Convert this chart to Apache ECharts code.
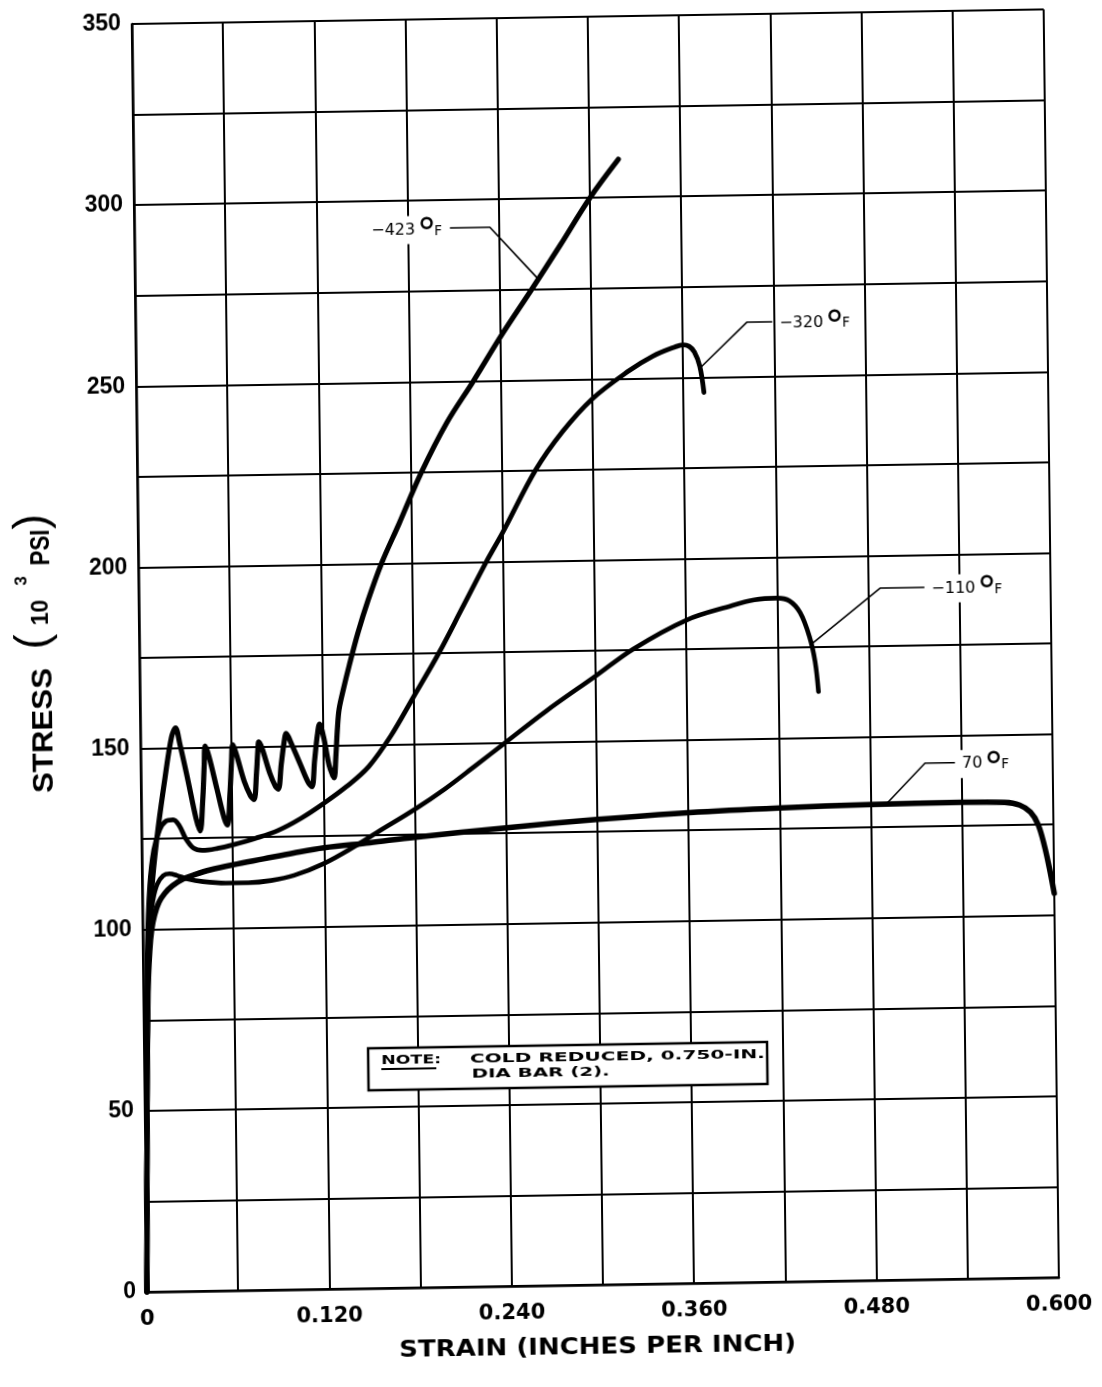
<!DOCTYPE html>
<html>
<head>
<meta charset="utf-8">
<title>Stress-strain curves, cold reduced 0.750-in. dia bar</title>
<script src="https://cdn.jsdelivr.net/npm/echarts@6/dist/echarts.min.js"></script>
<style>
  html, body { margin: 0; padding: 0; background: #fff; }
  /* the printed sheet sits very slightly rotated on the page */
  #chart {
    width: 1102px; height: 1387px; background: #fff;
    transform: matrix(1, -0.016, 0.012, 1, 0, 0);
    transform-origin: 147px 1292px;
  }
</style>
</head>
<body>
<div id="chart"></div>
<script>
// ---- tick labels ----
const xTickLabels = ['0', '0.120', '0.240', '0.360', '0.480', '0.600'];
const yTickLabels = ['0', '50', '100', '150', '200', '250', '300', '350'];

// ---- temperature labels ----
const tempLabels = ['\u2212423', '\u2212320', '\u2212110', '70'];

// ---- 70 F : strain (in/in), stress (10^3 psi) ----
const strain70 = [0, 0.0015, 0.003, 0.0045, 0.006, 0.008, 0.011, 0.015, 0.02, 0.027, 0.035, 0.045, 0.06, 0.08, 0.1, 0.12, 0.15, 0.18, 0.24, 0.3, 0.36, 0.42, 0.48, 0.54, 0.568, 0.578, 0.585, 0.59, 0.594, 0.597, 0.6];
const stress70 = [0, 50, 82, 94, 100, 104, 107.5, 110, 112, 113.8, 115, 116.2, 117.5, 119, 120.5, 121.8, 123, 124.3, 126.5, 128.4, 129.9, 130.8, 131.3, 131.5, 131.3, 130.5, 128.5, 125, 119, 113, 106];

// ---- -110 F ----
const strain110 = [0, 0.0015, 0.003, 0.0045, 0.007, 0.01, 0.014, 0.018, 0.023, 0.03, 0.04, 0.055, 0.07, 0.085, 0.1, 0.12, 0.14, 0.155, 0.18, 0.2, 0.22, 0.24, 0.267, 0.3, 0.325, 0.36, 0.39, 0.405, 0.42, 0.428, 0.435, 0.441, 0.4445, 0.4465];
const stress110 = [0, 55, 88, 100, 108, 112.5, 114.8, 115.3, 114.8, 113.8, 113, 112.5, 112.5, 113, 114.3, 117.5, 122, 125.8, 132, 137.5, 143.7, 150, 158.5, 168, 175.3, 183, 186.8, 188.3, 188.7, 187.9, 184.6, 177.9, 171, 162.7];

// ---- -320 F ----
const strain320 = [0, 0.0015, 0.003, 0.005, 0.008, 0.012, 0.016, 0.021, 0.025, 0.029, 0.034, 0.04, 0.05, 0.06, 0.075, 0.09, 0.105, 0.12, 0.135, 0.15, 0.165, 0.18, 0.197, 0.213, 0.229, 0.24, 0.262, 0.28, 0.3, 0.324, 0.34, 0.355, 0.36, 0.364, 0.3675, 0.371, 0.3735];
const stress320 = [0, 60, 95, 112, 122, 127.5, 129.8, 130.2, 128.5, 125, 122.3, 121.6, 122.1, 123, 124.7, 126.8, 130, 134, 138.5, 144, 152.5, 163, 175, 187.5, 200, 208, 225, 235.5, 244.5, 252, 256, 258.5, 259, 258.6, 257, 253, 245.8];

// ---- -423 F (serrated yielding) ----
const strain423 = [0, 0.0015, 0.003, 0.0045, 0.007, 0.011, 0.016, 0.0205, 0.0232, 0.026, 0.031, 0.036, 0.0386, 0.0405, 0.0418, 0.0426, 0.045, 0.05, 0.0545, 0.0567, 0.0585, 0.0598, 0.0607, 0.063, 0.068, 0.072, 0.0743, 0.0762, 0.0773, 0.0779, 0.08, 0.085, 0.0885, 0.0904, 0.0925, 0.0945, 0.096, 0.099, 0.105, 0.11, 0.1125, 0.1145, 0.1165, 0.118, 0.1205, 0.124, 0.1265, 0.1273, 0.1285, 0.1298, 0.131, 0.134, 0.138, 0.144, 0.151, 0.16, 0.172, 0.187, 0.204, 0.222, 0.24, 0.261, 0.28, 0.3, 0.319];
const stress423 = [0, 50, 85, 100, 114, 128, 142, 153, 155.5, 151, 141, 130.5, 127, 135, 145, 150.4, 147.5, 138.5, 130.5, 128.5, 137, 146, 150.6, 148, 140.5, 136.5, 135.4, 143, 149.5, 151.3, 149.5, 142.5, 139, 138.2, 145, 151, 153.5, 151, 145, 140, 138.7, 146, 153, 155.9, 152.5, 144.5, 141.5, 141.1, 147, 155, 160, 165.5, 172, 181, 190, 200, 211, 225, 238.5, 250, 262, 275, 287, 300, 310.5];

// ---- leader lines for the temperature labels (strain, stress); label sits at the first point ----
const leader423 = [[0.2077, 292.3], [0.234, 292.3], [0.265, 278]];
const leader320 = [[0.419, 265], [0.4024, 265], [0.371, 252.5]];
const leader110 = [[0.517, 191], [0.4878, 191], [0.4413, 175.5]];
const leader70  = [[0.5357, 142.5], [0.516, 142.5], [0.4907, 131.6]];

const pairs = (xs, ys) => xs.map((x, i) => [x, ys[i]]);

const ctx = document.createElement('canvas').getContext('2d');
function textWidth(text, font) { ctx.font = font; return ctx.measureText(text).width; }
function fitScale(text, font, width) { return width / textWidth(text, font); }

const chart = echarts.init(document.getElementById('chart'), null, { renderer: 'canvas', width: 1102, height: 1387 });

const curve = (name, data, width) => ({
  name, type: 'line', data, smooth: 0.35,
  showSymbol: false, symbol: 'none', clip: false, silent: true, z: 3,
  lineStyle: { color: '#000', width: width, cap: 'round', join: 'round' }
});

const leader = pts => ({
  type: 'line', data: pts, symbol: 'none', showSymbol: false,
  clip: false, silent: true, z: 4,
  lineStyle: { color: '#000', width: 1.6 }
});

const xLabel = v => {
  const k = v / 0.12;
  return Math.abs(k - Math.round(k)) < 1e-6 ? xTickLabels[Math.round(k)] : '';
};
const yLabel = v => (v % 50 === 0 ? yTickLabels[v / 50] : '');

chart.setOption({
  animation: false,
  backgroundColor: '#fff',
  grid: { left: 147, top: 24, width: 912, height: 1268, containLabel: false },
  xAxis: {
    type: 'value', min: 0, max: 0.6, interval: 0.06,
    axisLine: { show: true, lineStyle: { color: '#000', width: 2.5 } },
    axisTick: { show: false },
    splitLine: { show: true, lineStyle: { color: '#000', width: 2 } },
    axisLabel: {
      formatter: xLabel, margin: 17, color: '#000',
      fontFamily: 'DejaVu Sans', fontWeight: 'bold', fontSize: 21,
      showMinLabel: true, showMaxLabel: true
    }
  },
  yAxis: {
    type: 'value', min: 0, max: 350, interval: 25,
    axisLine: { show: true, lineStyle: { color: '#000', width: 2.5 } },
    axisTick: { show: false },
    splitLine: { show: true, lineStyle: { color: '#000', width: 2 } },
    axisLabel: {
      formatter: yLabel, margin: 11, color: '#000',
      fontFamily: 'Liberation Sans', fontWeight: 'bold', fontSize: 23,
      showMinLabel: true, showMaxLabel: true
    }
  },
  series: [
    curve('70\u00B0F', pairs(strain70, stress70), 5.5),
    curve('\u2212110\u00B0F', pairs(strain110, stress110), 4.6),
    curve('\u2212320\u00B0F', pairs(strain320, stress320), 4.8),
    curve('\u2212423\u00B0F', pairs(strain423, stress423), 5.2),
    leader(leader423),
    leader(leader320),
    leader(leader110),
    leader(leader70)
  ]
});

// ---- text drawn on top of the grid ----
const T = (text, x, y, font, opts) => Object.assign({
  type: 'text', x, y, z: 10, silent: true,
  style: Object.assign({
    text, fill: '#000', font,
    align: 'left', verticalAlign: 'middle', textAlign: 'left', textVerticalAlign: 'middle'
  }, (opts && opts.style) || {})
}, (opts && opts.el) || {});

// temperature label "-423 °F" built from pieces next to the leader end,
// on a white patch that interrupts the grid lines behind it
const numFont = '16px "DejaVu Sans"';
const degFont = '40px "DejaVu Sans"';
const fFont = '13.5px "DejaVu Sans"';
function tempLabel(text, anchor, side) {
  const p = chart.convertToPixel({ gridIndex: 0 }, anchor);
  const wNum = textWidth(text, numFont);
  const wDeg = 13, gap = 3, wF = textWidth('F', fFont);
  const total = wNum + 3 + wDeg + gap + wF;
  const x0 = side === 'left' ? p[0] - 8 - total : p[0] + 7;
  const y = p[1] + 1.5;
  return [
    { type: 'rect', z: 9, silent: true,
      shape: { x: x0 - 3, y: y - 14, width: total + 6, height: 28 },
      style: { fill: '#fff' } },
    T(text, x0, y, numFont),
    T('\u00B0', x0 + wNum + 1.5, y + 7, degFont),
    T('F', x0 + wNum + 3 + wDeg + gap, y + 1.5, fFont)
  ];
}

const xTitle = 'STRAIN (INCHES PER INCH)';
const xTitleFont = 'bold 23px "DejaVu Sans"';
const yTitleFont = 'bold 30px "Liberation Sans"';
const yPsiFont = 'bold 27px "Liberation Sans"';
const parenFont = '46px "Liberation Sans"';
const noteHead = 'NOTE:';
const noteLine1 = 'COLD REDUCED, 0.750-IN.';
const noteLine2 = 'DIA BAR (2).';
const noteFont = 'bold 13px "DejaVu Sans"';

const rot = Math.PI / 2;
const mid = { align: 'center', textAlign: 'center' };
const graphics = [
  // horizontal axis title
  T(xTitle, 597, 1355, xTitleFont, { style: mid, el: { scaleX: fitScale(xTitle, xTitleFont, 397) } }),
  // vertical axis title, read bottom to top
  T('STRESS', 51, 729, yTitleFont, { style: mid, el: { rotation: rot, scaleX: fitScale('STRESS', yTitleFont, 125) } }),
  T('(', 42, 640, parenFont, { style: mid, el: { rotation: rot } }),
  T('10', 50, 611, 'bold 23px "Liberation Sans"', { style: mid, el: { rotation: rot } }),
  T('3', 30, 579, 'bold 17px "Liberation Sans"', { style: mid, el: { rotation: rot } }),
  T('PSI', 51, 546, yPsiFont, { style: mid, el: { rotation: rot, scaleX: fitScale('PSI', yPsiFont, 36) } }),
  T(')', 42, 520, parenFont, { style: mid, el: { rotation: rot } }),
  // note box
  {
    type: 'group', z: 20, silent: true,
    children: [
      { type: 'rect', shape: { x: 371, y: 1052, width: 399, height: 42 },
        style: { fill: '#fff', stroke: '#000', lineWidth: 2.5 } },
      T(noteHead, 384, 1064.5, noteFont, { el: { scaleX: fitScale(noteHead, noteFont, 60) } }),
      { type: 'line', shape: { x1: 384, y1: 1073, x2: 439, y2: 1073 }, style: { stroke: '#000', lineWidth: 1.8 } },
      T(noteLine1, 472.7, 1064.5, noteFont, { el: { scaleX: fitScale(noteLine1, noteFont, 295) } }),
      T(noteLine2, 474.3, 1080, noteFont, { el: { scaleX: fitScale(noteLine2, noteFont, 138) } })
    ]
  }
].concat(
  tempLabel(tempLabels[0], leader423[0], 'left'),
  tempLabel(tempLabels[1], leader320[0], 'right'),
  tempLabel(tempLabels[2], leader110[0], 'right'),
  tempLabel(tempLabels[3], leader70[0], 'right')
);

chart.setOption({ graphic: graphics });
</script>
</body>
</html>
